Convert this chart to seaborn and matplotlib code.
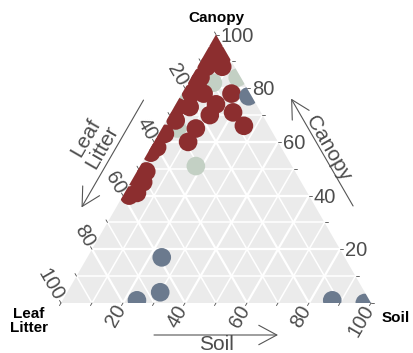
import numpy as np
import pandas as pd
import matplotlib
matplotlib.use("Agg")
import matplotlib.pyplot as plt
import seaborn as sns
from matplotlib.patches import Polygon

sns.set_theme(style="white")
plt.rcParams["font.family"] = ["Liberation Sans", "DejaVu Sans"]

# Source composition (%) of each sample: canopy, leaf litter, soil
green_canopy = [84, 51, 65, 75, 82]
green_litter = [1, 31, 30, 24, 10]
green_soil = [15, 18, 5, 1, 8]

red_canopy = [98, 92, 92, 88, 88, 82, 78, 78, 78, 74, 71, 66, 73, 65,
              60, 70, 73, 63, 58, 56, 49, 45, 41, 40, 47, 68, 84]
red_litter = [1, 6, 2, 9, 4, 15, 15, 19, 6, 13, 9, 8, 22, 24,
              29, 17, 26, 35, 40, 43, 48, 51, 55, 58, 53, 29, 13]
red_soil = [1, 2, 6, 3, 8, 3, 7, 3, 16, 13, 20, 26, 5, 11,
            11, 13, 1, 2, 2, 1, 3, 4, 4, 2, 0, 3, 3]

blue_canopy = [77, 17, 4, 1, 1, 0]
blue_litter = [1, 59, 66, 75, 12, 2]
blue_soil = [22, 24, 30, 24, 87, 98]

groups = ["green", "red", "blue"]
palette = {"green": "#C3D0C4", "red": "#8C2E2F", "blue": "#6B7A8E"}

tick_values = [20, 40, 60, 80, 100]

H = np.sqrt(3) / 2


def tern_xy(canopy, litter, soil):
    canopy = np.asarray(canopy, float)
    litter = np.asarray(litter, float)
    soil = np.asarray(soil, float)
    tot = canopy + litter + soil
    a = canopy / tot
    c = soil / tot
    return c + a / 2, a * H


frames = []
for g, ca, li, so in [("green", green_canopy, green_litter, green_soil),
                      ("red", red_canopy, red_litter, red_soil),
                      ("blue", blue_canopy, blue_litter, blue_soil)]:
    x, y = tern_xy(ca, li, so)
    frames.append(pd.DataFrame({"x": x, "y": y, "group": g}))
df = pd.concat(frames, ignore_index=True)

W, Hpx = 413, 353
px = 1 / 310.0  # one pixel in data units
fig = plt.figure(figsize=(W / 100, Hpx / 100), dpi=100)
ax = fig.add_axes([0, 0, 1, 1])
ax.set_xlim(-61 * px, (W - 61) * px)
ax.set_ylim(-50 * px, (Hpx - 50) * px)
ax.axis("off")

# triangle panel
tri = Polygon([(0, 0), (1, 0), (0.5, H)], closed=True, fc="#EBEBEB",
              ec="none", zorder=0)
ax.add_patch(tri)

# grid lines
for k in range(1, 10):
    v = k * 10
    lw = 1.6 if k % 2 == 0 else 1.1
    segs = [
        (tern_xy(v, 100 - v, 0), tern_xy(v, 0, 100 - v)),      # canopy
        (tern_xy(0, 100 - v, v), tern_xy(100 - v, 0, v)),      # soil
        (tern_xy(0, v, 100 - v), tern_xy(100 - v, v, 0)),      # litter
    ]
    for (x0, y0), (x1, y1) in segs:
        ax.plot([x0, x1], [y0, y1], color="white", lw=lw, zorder=1,
                solid_capstyle="butt")

# points
sns.scatterplot(data=df, x="x", y="y", hue="group", palette=palette,
                hue_order=groups, s=180, linewidth=0, legend=False,
                ax=ax, zorder=3)
for coll in ax.collections:
    coll.set_clip_path(tri)

# ticks and tick labels
tick_col = "#4D4D4D"
tl = 3 * px
lab_fs = 14.5
d_left = np.array([-0.5, H])
d_bot = np.array([-0.5, -H])
for k in range(0, 11):
    v = k * 10
    # canopy (right edge)
    x, y = tern_xy(v, 0, 100 - v)
    ax.plot([x, x + tl], [y, y], color=tick_col, lw=0.6)
    if v in tick_values:
        ax.text(x + 5 * px, y - 1.5 * px, str(v), ha="left", va="center",
                fontsize=lab_fs, color=tick_col)
    # litter (left edge)
    x, y = tern_xy(100 - v, v, 0)
    ax.plot([x, x + tl * d_left[0]], [y, y + tl * d_left[1]],
            color=tick_col, lw=0.6)
    if v in tick_values:
        p = np.array([x, y]) + 4 * px * d_left
        ax.text(p[0], p[1], str(v), ha="right", va="center", rotation=-60,
                rotation_mode="anchor", fontsize=lab_fs, color=tick_col)
    # soil (bottom edge)
    x, y = tern_xy(0, 100 - v, v)
    ax.plot([x, x + tl * d_bot[0]], [y, y + tl * d_bot[1]],
            color=tick_col, lw=0.6)
    if v in tick_values:
        p = np.array([x, y]) + 4 * px * d_bot
        ax.text(p[0], p[1], str(v), ha="right", va="center", rotation=60,
                rotation_mode="anchor", fontsize=lab_fs, color=tick_col)

# axis arrows and titles
arr_col = "#555555"
aprops = dict(arrowstyle="->,head_length=1.3,head_width=0.7",
              color=arr_col, lw=0.8, mutation_scale=10,
              shrinkA=0, shrinkB=0)
apex = np.array([0.5, H])
bl = np.array([0.0, 0.0])
br = np.array([1.0, 0.0])

# leaf litter: along the left edge, apex -> bottom-left
n_left = np.array([-H, 0.5])
tail = apex + 0.3 * (bl - apex) + 30 * px * n_left
head = apex + 0.7 * (bl - apex) + 30 * px * n_left
ax.annotate("", xy=head, xytext=tail, arrowprops=aprops)
c = apex + 0.5 * (bl - apex) + 52 * px * n_left
ax.text(c[0], c[1], "Leaf\nLitter", ha="center", va="center", rotation=60,
        rotation_mode="anchor", fontsize=15, color=tick_col,
        multialignment="center", linespacing=1.0)

# canopy: along the right edge, bottom-right -> apex
n_right = np.array([H, 0.5])
tail = apex + 0.7 * (br - apex) + 33 * px * n_right
head = apex + 0.3 * (br - apex) + 33 * px * n_right
ax.annotate("", xy=head, xytext=tail, arrowprops=aprops)
c = apex + 0.5 * (br - apex) + 40 * px * n_right
ax.text(c[0], c[1], "Canopy", ha="center", va="center", rotation=-60,
        rotation_mode="anchor", fontsize=15, color=tick_col)

# soil: along the bottom edge, left -> right
tail = np.array([0.3, -32 * px])
head = np.array([0.7, -32 * px])
ax.annotate("", xy=head, xytext=tail, arrowprops=aprops)
ax.text(0.5, -41 * px, "Soil", ha="center", va="center", fontsize=15,
        color=tick_col)

# vertex names
ax.text(0.5, H + 17 * px, "Canopy", ha="center", va="center",
        fontsize=11, fontweight="bold", color="black")
ax.text(-32 * px, -18 * px, "Leaf\nLitter", ha="center", va="center",
        fontsize=11, fontweight="bold", color="black",
        multialignment="center", linespacing=1.0)
ax.text(1 + 25 * px, -15 * px, "Soil", ha="center", va="center",
        fontsize=11, fontweight="bold", color="black")

fig.savefig("out.png", dpi=100)
